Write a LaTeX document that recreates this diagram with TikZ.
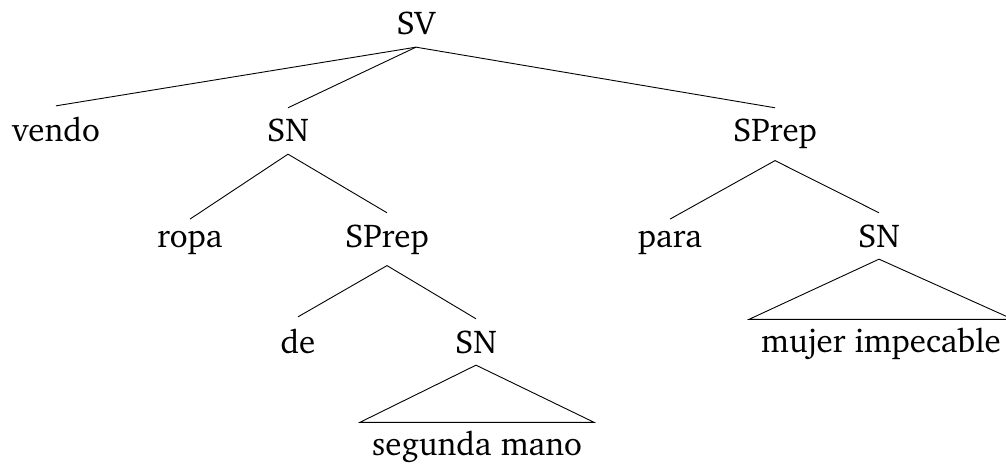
\documentclass[tikz,border=0pt]{standalone}
\usepackage[T1]{fontenc}
\usepackage{charter}
\begin{document}
\begin{tikzpicture}[x=1pt,y=-1pt,
  cat/.style={anchor=base,inner xsep=0pt,inner ysep=11.5pt,font=\fontsize{33}{40}\selectfont},
  tri/.style={anchor=base,inner xsep=12pt,inner ysep=8pt,font=\fontsize{33}{40}\selectfont},
  edge/.style={draw=black,line width=0.9pt}]
\useasboundingbox (0,0) rectangle (1006,465);
\node[cat] (sv) at (416,35) {SV};
\node[cat] (vendo) at (56,142) {vendo};
\node[cat] (sn1) at (288,142) {SN};
\node[cat] (sprep1) at (775,142) {SPrep};
\node[cat] (ropa) at (190,247) {ropa};
\node[cat] (sprep2) at (387,247) {SPrep};
\node[cat] (para) at (670,247) {para};
\node[cat] (sn2) at (879,247) {SN};
\node[cat] (de) at (298,353) {de};
\node[cat] (sn3) at (476,353) {SN};
\node[tri] (segunda) at (477,455) {segunda mano};
\node[tri] (mujer) at (881,352) {mujer impecable};
\draw[edge] (sv.south) -- (vendo.north);
\draw[edge] (sv.south) -- (sn1.north);
\draw[edge] (sv.south) -- (sprep1.north);
\draw[edge] (sn1.south) -- (ropa.north);
\draw[edge] (sn1.south) -- (sprep2.north);
\draw[edge] (sprep1.south) -- (para.north);
\draw[edge] (sprep1.south) -- (sn2.north);
\draw[edge] (sprep2.south) -- (de.north);
\draw[edge] (sprep2.south) -- (sn3.north);
\draw[edge] (sn3.south) -- (segunda.north west) -- (segunda.north east) -- cycle;
\draw[edge] (sn2.south) -- (mujer.north west) -- (mujer.north east) -- cycle;
\end{tikzpicture}
\end{document}
